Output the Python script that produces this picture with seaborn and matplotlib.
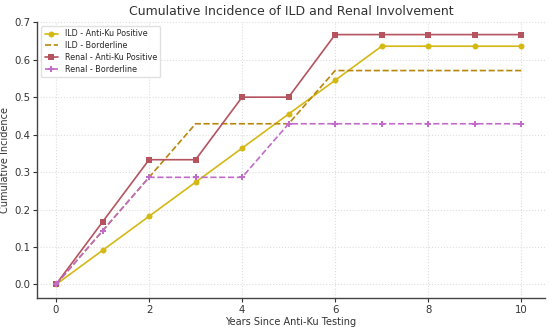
import numpy as np
import pandas as pd
import matplotlib
matplotlib.use("Agg")
import matplotlib.pyplot as plt
import seaborn as sns

# 数据
years = list(range(11))
ild_pos = [0.0, 0.091, 0.182, 0.273, 0.364, 0.455, 0.545, 0.636, 0.636, 0.636, 0.636]
ild_border = [0.0, 0.143, 0.286, 0.429, 0.429, 0.429, 0.571, 0.571, 0.571, 0.571, 0.571]
renal_pos = [0.0, 0.167, 0.333, 0.333, 0.5, 0.5, 0.667, 0.667, 0.667, 0.667, 0.667]
renal_border = [0.0, 0.143, 0.286, 0.286, 0.286, 0.429, 0.429, 0.429, 0.429, 0.429, 0.429]

series = [
    ("ILD - Anti-Ku Positive", ild_pos, "#d4b814", "-", "o"),
    ("ILD - Borderline", ild_border, "#b8860b", "--", None),
    ("Renal - Anti-Ku Positive", renal_pos, "#b5535f", "-", "s"),
    ("Renal - Borderline", renal_border, "#c06cc8", "--", "P"),
]

sns.set_style("whitegrid", {"grid.linestyle": ":", "grid.color": "#dddddd"})
plt.rcParams['font.family'] = ['DejaVu Sans']

fig, ax = plt.subplots(figsize=(5.5, 3.27), dpi=100)

for name, vals, color, ls, marker in series:
    df = pd.DataFrame({"year": years, "value": vals})
    sns.lineplot(data=df, x="year", y="value", ax=ax, color=color,
                 linestyle=ls, marker=marker, markersize=4.3,
                 markeredgewidth=0, linewidth=1.2, label=name)

ax.set_xlim(-0.4, 10.5)
ax.set_ylim(-0.035, 0.7)
ax.set_xticks([0, 2, 4, 6, 8, 10])
ax.set_yticks(np.arange(0, 0.71, 0.1))
ax.set_title("Cumulative Incidence of ILD and Renal Involvement", fontsize=9,
             color="#333333", pad=5)
ax.set_xlabel("Years Since Anti-Ku Testing", fontsize=7, color="#333333", labelpad=2)
ax.set_ylabel("Cumulative Incidence", fontsize=7, color="#333333", labelpad=3)
ax.tick_params(axis="both", labelsize=7.3, colors="#333333", length=3, width=0.8,
               left=True, bottom=True, pad=2)
for side in ["top", "right"]:
    ax.spines[side].set_visible(False)
for side in ["left", "bottom"]:
    ax.spines[side].set_color("#444444")
    ax.spines[side].set_linewidth(1.0)

ax.legend(loc="upper left", fontsize=5.8, frameon=True, framealpha=0.9,
          edgecolor="#dddddd", handlelength=1.7, borderpad=0.4, labelspacing=0.35)

fig.subplots_adjust(left=0.068, right=0.99, top=0.932, bottom=0.09)
fig.savefig("out.png", dpi=100)
